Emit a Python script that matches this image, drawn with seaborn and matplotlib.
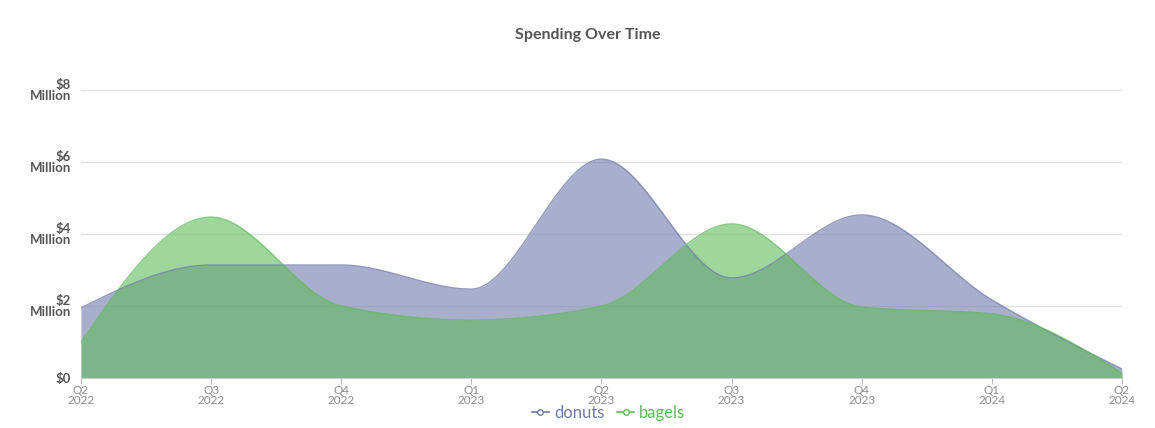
import numpy as np
import pandas as pd
import seaborn as sns
import matplotlib.pyplot as plt
from matplotlib.lines import Line2D

quarters = ["Q2\n2022", "Q3\n2022", "Q4\n2022", "Q1\n2023", "Q2\n2023",
            "Q3\n2023", "Q4\n2023", "Q1\n2024", "Q2\n2024"]
donuts = [1.95, 3.14, 3.14, 2.47, 6.08, 2.78, 4.53, 2.17, 0.25]
bagels = [1.0, 4.47, 2.0, 1.61, 2.0, 4.28, 1.97, 1.78, 0.14]
y_ticks = [0, 2, 4, 6, 8]
y_labels = ["$0", "$2\nMillion", "$4\nMillion", "$6\nMillion", "$8\nMillion"]


def monotone(y, n=40):
    # d3 curveMonotoneX style hermite interpolation
    y = np.asarray(y, dtype=float)
    x = np.arange(len(y), dtype=float)
    s = np.diff(y)
    t = np.zeros(len(y))
    for i in range(1, len(y) - 1):
        s0, s1 = s[i - 1], s[i]
        p = (s0 + s1) / 2
        t[i] = (np.sign(s0) + np.sign(s1)) * min(abs(s0), abs(s1), 0.5 * abs(p))
    t[0] = (3 * s[0] - t[1]) / 2
    t[-1] = (3 * s[-1] - t[-2]) / 2
    xs, ys = [], []
    for i in range(len(y) - 1):
        u = np.linspace(0, 1, n, endpoint=False)
        h00 = 2 * u**3 - 3 * u**2 + 1
        h10 = u**3 - 2 * u**2 + u
        h01 = -2 * u**3 + 3 * u**2
        h11 = u**3 - u**2
        xs.append(x[i] + u)
        ys.append(h00 * y[i] + h10 * t[i] + h01 * y[i + 1] + h11 * t[i + 1])
    xs.append([x[-1]])
    ys.append([y[-1]])
    return np.concatenate(xs), np.concatenate(ys)


plt.rcParams['font.family'] = ['Lato', 'DejaVu Sans']

fig = plt.figure(figsize=(11.55, 4.28), dpi=100)
ax = fig.add_axes([0.0701, 0.1168, 0.9013, 0.6729])

colors = {"donuts": "#6f79aa", "bagels": "#5fbb5a"}
frames = []
for name, vals in [("donuts", donuts), ("bagels", bagels)]:
    xs, ys = monotone(vals)
    frames.append(pd.DataFrame({"x": xs, "y": ys, "series": name}))
df = pd.concat(frames)

for name in ["donuts", "bagels"]:
    sub = df[df.series == name]
    ax.fill_between(sub.x, 0, sub.y, color=colors[name], alpha=0.6, lw=0, zorder=2)
sns.lineplot(data=df, x="x", y="y", hue="series", palette=colors,
             linewidth=1, alpha=0.75, legend=False, ax=ax, zorder=3, sort=False)

ax.set_xlim(0, len(quarters) - 1)
ax.set_ylim(0, 8)
ax.set_xticks(range(len(quarters)))
ax.set_xticklabels(quarters, color="#8c8c8c", fontsize=8.5, linespacing=0.85)
ax.set_yticks(y_ticks)
ax.set_yticklabels(y_labels, color="#555555", fontsize=9.5, fontweight="bold",
                   linespacing=0.92, ha="right")
ax.tick_params(axis="y", length=0, pad=7)
ax.tick_params(axis="x", length=4, color="#bbbbbb", pad=1)
ax.grid(axis="y", color="#e2e2e2", lw=1, zorder=0)
ax.set_axisbelow(True)
for sp in ["top", "right", "left"]:
    ax.spines[sp].set_visible(False)
ax.spines["bottom"].set_color("#cccccc")
ax.set_xlabel("")
ax.set_ylabel("")

fig.text(0.509, 0.918, "Spending Over Time", ha="center", va="center",
         fontsize=11.5, fontweight="bold", color="#555555")

handles = [Line2D([], [], color=colors[n], marker="o", markersize=4,
                  markerfacecolor="white", lw=1.2) for n in ["donuts", "bagels"]]
leg = fig.legend(handles, ["donuts", "bagels"], loc="center",
                 bbox_to_anchor=(0.527, 0.036), ncol=2, frameon=False,
                 fontsize=12, handlelength=1.0, handletextpad=0.3,
                 columnspacing=0.8)
for txt, n in zip(leg.get_texts(), ["donuts", "bagels"]):
    txt.set_color(colors[n])

fig.savefig("out.png", dpi=100)
